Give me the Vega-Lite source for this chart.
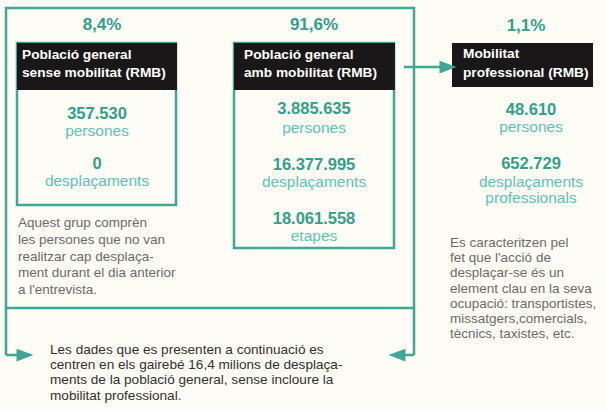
{
  "$schema": "https://vega.github.io/schema/vega-lite/v6.json",
  "width": 606,
  "height": 410,
  "autosize": {"type": "fit", "contains": "padding"},
  "padding": 0,
  "background": "#fdfcf5",
  "config": {"view": {"stroke": null}},
  "datasets": {
    "boxes": [
      {"x": 6, "x2": 414, "y": 8, "y2": 308},
      {"x": 17, "x2": 176, "y": 43, "y2": 205},
      {"x": 234, "x2": 394, "y": 43, "y2": 248}
    ],
    "headers": [
      {"x": 17, "x2": 177, "y": 43, "y2": 90},
      {"x": 234, "x2": 395, "y": 43, "y2": 90},
      {"x": 452, "x2": 593, "y": 43, "y2": 87}
    ],
    "lines": [
      {"x": 6, "y": 308, "x2": 6, "y2": 355},
      {"x": 6, "y": 355, "x2": 25, "y2": 355},
      {"x": 414, "y": 308, "x2": 414, "y2": 355},
      {"x": 414, "y": 355, "x2": 397, "y2": 355},
      {"x": 404, "y": 67, "x2": 445, "y2": 67}
    ],
    "arrows": [
      {"x": 25, "y": 355, "dir": "right"},
      {"x": 448, "y": 67, "dir": "right"},
      {"x": 397, "y": 355, "dir": "left"}
    ],
    "texts": [
      {"kind": "pct", "x": 102, "y": 25, "text": "8,4%"},
      {"kind": "pct", "x": 314, "y": 25, "text": "91,6%"},
      {"kind": "pct", "x": 526, "y": 26, "text": "1,1%"},
      {"kind": "hdr", "x": 22, "y": 55, "text": "Població general"},
      {"kind": "hdr", "x": 22, "y": 73, "text": "sense mobilitat (RMB)"},
      {"kind": "hdr", "x": 244, "y": 55, "text": "Població general"},
      {"kind": "hdr", "x": 244, "y": 73, "text": "amb mobilitat (RMB)"},
      {"kind": "hdr", "x": 463, "y": 54, "text": "Mobilitat"},
      {"kind": "hdr", "x": 463, "y": 73, "text": "professional (RMB)"},
      {"kind": "num", "x": 97, "y": 114, "text": "357.530"},
      {"kind": "lbl", "x": 97, "y": 131, "text": "persones"},
      {"kind": "num", "x": 97, "y": 164, "text": "0"},
      {"kind": "lbl", "x": 97, "y": 181, "text": "desplaçaments"},
      {"kind": "num", "x": 314, "y": 109, "text": "3.885.635"},
      {"kind": "lbl", "x": 314, "y": 128, "text": "persones"},
      {"kind": "num", "x": 314, "y": 165, "text": "16.377.995"},
      {"kind": "lbl", "x": 314, "y": 182, "text": "desplaçaments"},
      {"kind": "num", "x": 314, "y": 219, "text": "18.061.558"},
      {"kind": "lbl", "x": 314, "y": 236, "text": "etapes"},
      {"kind": "num", "x": 531, "y": 110, "text": "48.610"},
      {"kind": "lbl", "x": 531, "y": 127, "text": "persones"},
      {"kind": "num", "x": 531, "y": 164, "text": "652.729"},
      {"kind": "lbl", "x": 531, "y": 182, "text": "desplaçaments"},
      {"kind": "lbl", "x": 531, "y": 198, "text": "professionals"},
      {"kind": "note", "x": 18, "y": 223, "text": "Aquest grup comprèn"},
      {"kind": "note", "x": 18, "y": 240, "text": "les persones que no van"},
      {"kind": "note", "x": 18, "y": 257, "text": "realitzar cap desplaça-"},
      {"kind": "note", "x": 18, "y": 273, "text": "ment durant el dia anterior"},
      {"kind": "note", "x": 18, "y": 290, "text": "a l'entrevista."},
      {"kind": "note", "x": 450, "y": 243, "text": "Es caracteritzen pel"},
      {"kind": "note", "x": 450, "y": 258, "text": "fet que l'acció de"},
      {"kind": "note", "x": 450, "y": 273, "text": "desplaçar-se és un"},
      {"kind": "note", "x": 450, "y": 289, "text": "element clau en la seva"},
      {"kind": "note", "x": 450, "y": 304, "text": "ocupació: transportistes,"},
      {"kind": "note", "x": 450, "y": 319, "text": "missatgers,comercials,"},
      {"kind": "note", "x": 450, "y": 334, "text": "tècnics, taxistes, etc."},
      {"kind": "foot", "x": 50, "y": 350, "text": "Les dades que es presenten a continuació es"},
      {"kind": "foot", "x": 50, "y": 365, "text": "centren en els gairebé 16,4 milions de desplaça-"},
      {"kind": "foot", "x": 50, "y": 380, "text": "ments de la població general, sense incloure la"},
      {"kind": "foot", "x": 50, "y": 396, "text": "mobilitat professional."}
    ]
  },
  "layer": [
    {
      "data": {"name": "boxes"},
      "mark": {"type": "rect", "fill": null, "stroke": "#3ea795", "strokeWidth": 2.5},
      "encoding": {
        "x": {"field": "x", "type": "quantitative", "scale": {"domain": [0, 606], "nice": false, "zero": false}, "axis": null},
        "x2": {"field": "x2"},
        "y": {"field": "y", "type": "quantitative", "scale": {"domain": [0, 410], "nice": false, "zero": false, "reverse": true}, "axis": null},
        "y2": {"field": "y2"}
      }
    },
    {
      "data": {"name": "headers"},
      "mark": {"type": "rect", "fill": "#1a1718"},
      "encoding": {
        "x": {"field": "x", "type": "quantitative"},
        "x2": {"field": "x2"},
        "y": {"field": "y", "type": "quantitative"},
        "y2": {"field": "y2"}
      }
    },
    {
      "data": {"name": "lines"},
      "mark": {"type": "rule", "stroke": "#3ea795", "strokeWidth": 2.5},
      "encoding": {
        "x": {"field": "x", "type": "quantitative"},
        "x2": {"field": "x2"},
        "y": {"field": "y", "type": "quantitative"},
        "y2": {"field": "y2"}
      }
    },
    {
      "data": {"name": "arrows"},
      "transform": [{"filter": "datum.dir === 'right'"}],
      "mark": {"type": "point", "shape": "M-1,-0.75L1,0L-1,0.75Z", "filled": true, "color": "#3ea795", "opacity": 1, "size": 289},
      "encoding": {
        "x": {"field": "x", "type": "quantitative"},
        "y": {"field": "y", "type": "quantitative"}
      }
    },
    {
      "data": {"name": "arrows"},
      "transform": [{"filter": "datum.dir === 'left'"}],
      "mark": {"type": "point", "shape": "M1,-0.75L-1,0L1,0.75Z", "filled": true, "color": "#3ea795", "opacity": 1, "size": 289},
      "encoding": {
        "x": {"field": "x", "type": "quantitative"},
        "y": {"field": "y", "type": "quantitative"}
      }
    },
    {
      "data": {"name": "texts"},
      "transform": [{"filter": "datum.kind === 'pct'"}],
      "mark": {"type": "text", "font": "Liberation Sans", "fontWeight": "bold", "fontSize": 17, "color": "#33a08c", "align": "center", "baseline": "middle"},
      "encoding": {"x": {"field": "x", "type": "quantitative"}, "y": {"field": "y", "type": "quantitative"}, "text": {"field": "text"}}
    },
    {
      "data": {"name": "texts"},
      "transform": [{"filter": "datum.kind === 'hdr'"}],
      "mark": {"type": "text", "font": "Liberation Sans", "fontWeight": "bold", "fontSize": 13.7, "color": "#ffffff", "align": "left", "baseline": "middle"},
      "encoding": {"x": {"field": "x", "type": "quantitative"}, "y": {"field": "y", "type": "quantitative"}, "text": {"field": "text"}}
    },
    {
      "data": {"name": "texts"},
      "transform": [{"filter": "datum.kind === 'num'"}],
      "mark": {"type": "text", "font": "Liberation Sans", "fontWeight": "bold", "fontSize": 16.5, "color": "#33a08c", "align": "center", "baseline": "middle"},
      "encoding": {"x": {"field": "x", "type": "quantitative"}, "y": {"field": "y", "type": "quantitative"}, "text": {"field": "text"}}
    },
    {
      "data": {"name": "texts"},
      "transform": [{"filter": "datum.kind === 'lbl'"}],
      "mark": {"type": "text", "font": "Liberation Sans", "fontSize": 15.5, "color": "#5fc4b7", "align": "center", "baseline": "middle"},
      "encoding": {"x": {"field": "x", "type": "quantitative"}, "y": {"field": "y", "type": "quantitative"}, "text": {"field": "text"}}
    },
    {
      "data": {"name": "texts"},
      "transform": [{"filter": "datum.kind === 'note'"}],
      "mark": {"type": "text", "font": "Liberation Sans", "fontSize": 13.5, "color": "#6e6a6a", "align": "left", "baseline": "middle"},
      "encoding": {"x": {"field": "x", "type": "quantitative"}, "y": {"field": "y", "type": "quantitative"}, "text": {"field": "text"}}
    },
    {
      "data": {"name": "texts"},
      "transform": [{"filter": "datum.kind === 'foot'"}],
      "mark": {"type": "text", "font": "Liberation Sans", "fontSize": 13.6, "color": "#333030", "align": "left", "baseline": "middle"},
      "encoding": {"x": {"field": "x", "type": "quantitative"}, "y": {"field": "y", "type": "quantitative"}, "text": {"field": "text"}}
    }
  ]
}
